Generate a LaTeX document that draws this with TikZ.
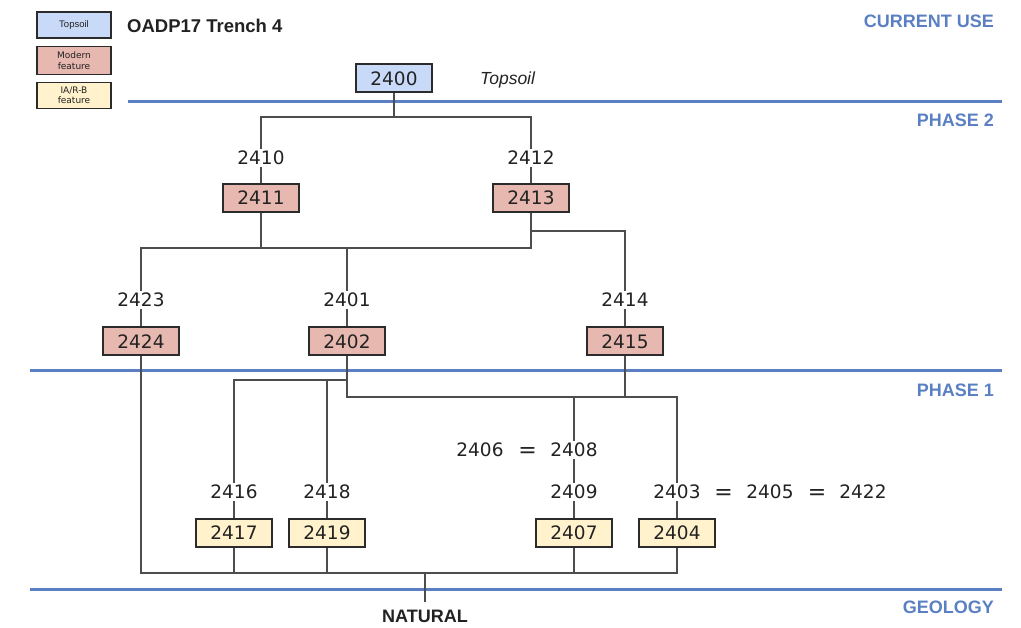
\documentclass[tikz,border=0pt]{standalone}
\usepackage{fontspec}
\setmainfont{DejaVu Sans}
\newfontfamily\arial{Liberation Sans}
\definecolor{phaseblue}{HTML}{5A7FC2}
\definecolor{boxline}{HTML}{2B2B2B}
\definecolor{linegray}{HTML}{4D4D4D}
\definecolor{txt}{HTML}{222222}
\definecolor{tsblue}{HTML}{C9DAF8}
\definecolor{modpink}{HTML}{E6B8AF}
\definecolor{iayellow}{HTML}{FFF2CC}
\newcommand{\numfont}{\fontsize{18.5}{20}\selectfont}
\tikzset{
  unit/.style={draw=boxline, line width=2pt, minimum width=76pt, minimum height=28pt,
    inner sep=0pt, font=\numfont, text=txt},
  topsoilunit/.style={unit, fill=tsblue},
  modernunit/.style={unit, fill=modpink},
  iaunit/.style={unit, fill=iayellow},
  lbl/.style={fill=white, inner sep=2pt, font=\numfont, text=txt},
  eqsign/.style={inner sep=1pt, yshift=-2.5pt, font=\fontsize{22}{22}\selectfont, text=txt},
  link/.style={draw=linegray, line width=1.1pt},
  phaseline/.style={draw=phaseblue, line width=3pt},
  phasename/.style={anchor=east, inner sep=0pt, font=\arial\bfseries\fontsize{18}{20}\selectfont, text=phaseblue},
  legbox/.style={draw=boxline, line width=1.8pt, minimum width=74pt, inner sep=0pt,
    align=center, text=txt},
}
\begin{document}
\begin{tikzpicture}[x=1pt, y=-1pt]
\useasboundingbox (0,0) rectangle (1021,628);

% key
\node[legbox, fill=tsblue, minimum height=26pt, font=\arial\fontsize{9.5}{10}\selectfont] (keyTop) at (74,25) {Topsoil};
\node[legbox, fill=modpink, minimum height=28pt, font=\fontsize{9}{10.5}\selectfont] (keyMod) at (74,60.5) {Modern\\feature};
\node[legbox, fill=iayellow, minimum height=26pt, font=\fontsize{9}{10.5}\selectfont] (keyIA) at (74,95.5) {IA/R-B\\feature};
\node[anchor=west, inner sep=0pt, font=\arial\bfseries\fontsize{18.5}{20}\selectfont, text=txt] (title) at (127,26) {OADP17 Trench 4};

% phase boundaries
\draw[phaseline] (128,102) -- (1002,102);
\draw[phaseline] (30,371) -- (1002,371);
\draw[phaseline] (30,589) -- (1002,589);
\node[phasename] (pCur) at (994,21) {CURRENT USE};
\node[phasename] (pTwo) at (994,120) {PHASE 2};
\node[phasename] (pOne) at (994,390) {PHASE 1};
\node[phasename] (pGeo) at (994,607) {GEOLOGY};

% contexts
\node[topsoilunit] (b2400) at (394,78.5) {2400};
\node[anchor=west, inner sep=0pt, font=\arial\itshape\fontsize{17.5}{20}\selectfont, text=txt] (tsName) at (480,80) {Topsoil};

\node[lbl] (l2410) at (261,158) {2410};
\node[modernunit] (b2411) at (261,198) {2411};
\node[lbl] (l2412) at (531,158) {2412};
\node[modernunit] (b2413) at (531,198) {2413};

\node[lbl] (l2423) at (141,300) {2423};
\node[modernunit] (b2424) at (141,341.5) {2424};
\node[lbl] (l2401) at (347,300) {2401};
\node[modernunit] (b2402) at (347,341.5) {2402};
\node[lbl] (l2414) at (625,300) {2414};
\node[modernunit] (b2415) at (625,341.5) {2415};

\node[lbl] (l2416) at (234,492) {2416};
\node[iaunit] (b2417) at (234,533) {2417};
\node[lbl] (l2418) at (327,492) {2418};
\node[iaunit] (b2419) at (327,533) {2419};

\node[lbl] (l2406) at (480,450) {2406};
\node[eqsign] (eqA) at (527.5,450) {=};
\node[lbl] (l2408) at (574,450) {2408};
\node[lbl] (l2409) at (574,492) {2409};
\node[iaunit] (b2407) at (574,533) {2407};

\node[lbl] (l2403) at (677,492) {2403};
\node[eqsign] (eqB) at (723.5,492) {=};
\node[lbl] (l2405) at (770,492) {2405};
\node[eqsign] (eqC) at (817,492) {=};
\node[lbl] (l2422) at (863,492) {2422};
\node[iaunit] (b2404) at (677,533) {2404};

\node[font=\arial\bfseries\fontsize{18}{20}\selectfont, text=txt] (natural) at (425,616) {NATURAL};

% junctions
\coordinate (j1) at (394,117);
\coordinate (j2) at (347,248);
\coordinate (j3) at (531,231);
\coordinate (j4) at (347,380);
\coordinate (j5) at (347,397);
\coordinate (j6) at (425,573);
\coordinate (j7) at (677,573);
\coordinate (nat) at (425,602);

% sequence
\draw[link] (b2400) -- (j1);
\draw[link] (l2410) |- (j1) -| (l2412);
\draw[link] (l2410) -- (b2411);
\draw[link] (l2412) -- (b2413);

\draw[link] (b2411) -- (b2411 |- j2);
\draw[link] (l2423) |- (j2) -| (b2413);
\draw[link] (j2) -- (l2401);
\draw[link] (j3) -| (l2414);
\draw[link] (l2423) -- (b2424);
\draw[link] (l2401) -- (b2402);
\draw[link] (l2414) -- (b2415);

\draw[link] (b2402) -- (j5) -| (l2403);
\draw[link] (j4) -| (l2416);
\draw[link] (l2418) -- (l2418 |- j4);
\draw[link] (b2415) -- (b2415 |- j5);
\draw[link] (l2408) -- (l2408 |- j5);
\draw[link] (l2408) -- (l2409);
\draw[link] (l2409) -- (b2407);
\draw[link] (l2403) -- (b2404);
\draw[link] (l2416) -- (b2417);
\draw[link] (l2418) -- (b2419);

\draw[link] (b2424) |- (j7) -- (b2404);
\draw[link] (b2417) -- (b2417 |- j6);
\draw[link] (b2419) -- (b2419 |- j6);
\draw[link] (b2407) -- (b2407 |- j6);
\draw[link] (j6) -- (nat);
\end{tikzpicture}
\end{document}
